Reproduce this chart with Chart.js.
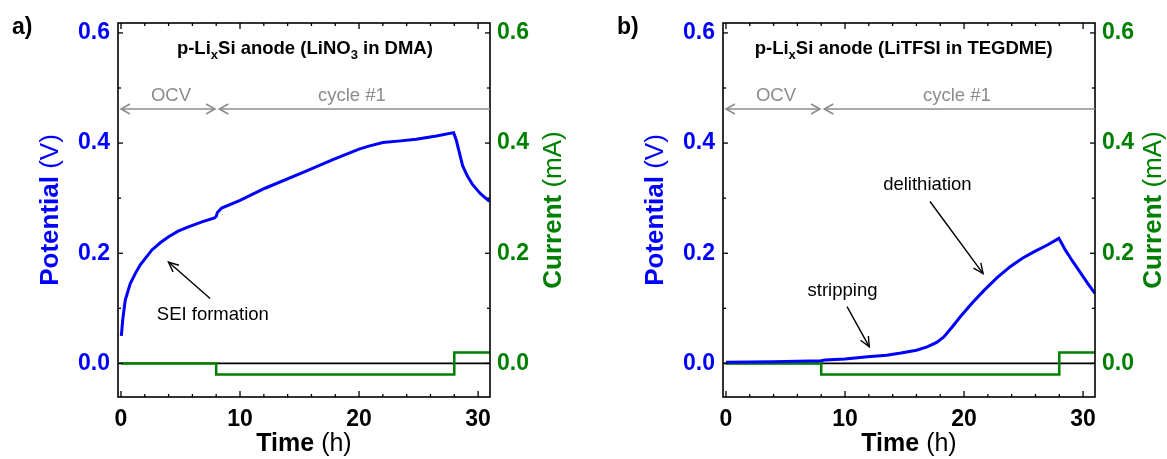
<!DOCTYPE html>
<html>
<head>
<meta charset="utf-8">
<script src="https://cdn.jsdelivr.net/npm/chart.js@4/dist/chart.umd.min.js"></script>
<style>
  html, body { margin: 0; padding: 0; background: #fff; }
  body { width: 1167px; height: 459px; position: relative; overflow: hidden; }
  .box { position: absolute; top: 0; height: 459px; }
  #boxA { left: 0; width: 600px; }
  #boxB { left: 605px; width: 562px; }
</style>
</head>
<body>
<div class="box" id="boxA"><canvas id="chartA" width="600" height="459"></canvas></div>
<div class="box" id="boxB"><canvas id="chartB" width="562" height="459"></canvas></div>
<script>
// ---------- data ----------
const timeA = [0.03, 0.15, 0.36, 0.78, 1.2, 1.62, 2.6, 3.3, 4.0, 4.8, 5.67, 6.8, 7.85, 8.0, 8.1, 8.46, 10, 12.1, 15.45, 17.8, 20.0, 20.9, 22.0, 23.5, 24.8, 26.5, 27.94, 28.16, 28.4, 28.7, 29.1, 29.56, 30.2, 30.95];
const potentialA = [0.050, 0.080, 0.115, 0.145, 0.163, 0.179, 0.206, 0.219, 0.230, 0.240, 0.248, 0.257, 0.264, 0.267, 0.274, 0.282, 0.296, 0.318, 0.348, 0.370, 0.389, 0.395, 0.401, 0.404, 0.407, 0.413, 0.419, 0.406, 0.385, 0.359, 0.340, 0.324, 0.308, 0.294];

const timeB = [0, 4, 7.97, 8.3, 10, 11.9, 13.5, 14.7, 16, 16.9, 17.7, 18.3, 19.0, 19.7, 20.7, 21.7, 22.8, 23.9, 24.9, 25.9, 27.0, 27.96, 28.2, 28.5, 29.1, 29.8, 30.4, 31.0];
const potentialB = [0.002, 0.003, 0.005, 0.006, 0.008, 0.012, 0.015, 0.019, 0.024, 0.030, 0.038, 0.048, 0.066, 0.085, 0.110, 0.133, 0.156, 0.176, 0.191, 0.203, 0.215, 0.227, 0.218, 0.206, 0.186, 0.164, 0.145, 0.127];

const currentTime = [0, 8, 28, 31];
const currentValues = [0, -0.02, 0.02, 0.02];

const yMajorTicks = [0, 0.2, 0.4, 0.6];
const yMinorTicks = [0.1, 0.3, 0.5];
const xMajorTicks = [0, 10, 20, 30];
const xMinorTicks = [2, 4, 6, 8, 12, 14, 16, 18, 22, 24, 26, 28];

const xRange = [-0.25, 31];
const yRange = [-0.061, 0.618];

// ---------- style ----------
const FONT = '"Liberation Sans", Arial, Helvetica, sans-serif';
const BLUE = '#0000ff';
const GREEN = '#008000';
const GRAY = '#8c8c8c';

function pairs(xs, ys) { return xs.map((x, i) => ({ x: x, y: ys[i] })); }

function drawMixed(ctx, parts, x, y, align) {
  let total = 0;
  parts.forEach(p => {
    ctx.font = (p.weight || 'normal') + ' ' + p.size + 'px ' + FONT;
    p.w = ctx.measureText(p.text).width;
    total += p.w;
  });
  let cx = align === 'center' ? x - total / 2 : (align === 'right' ? x - total : x);
  parts.forEach(p => {
    ctx.font = (p.weight || 'normal') + ' ' + p.size + 'px ' + FONT;
    ctx.textAlign = 'left';
    ctx.fillText(p.text, cx, y + (p.sub || 0));
    cx += p.w;
  });
}

function arrowHead(ctx, x0, y0, x1, y1, len, half) {
  const a = Math.atan2(y1 - y0, x1 - x0);
  const ang = Math.atan2(half, len);
  const l = Math.hypot(len, half);
  ctx.beginPath();
  ctx.moveTo(x1 - l * Math.cos(a - ang), y1 - l * Math.sin(a - ang));
  ctx.lineTo(x1, y1);
  ctx.lineTo(x1 - l * Math.cos(a + ang), y1 - l * Math.sin(a + ang));
  ctx.stroke();
}

const framePlugin = {
  id: 'frame',
  beforeDatasetsDraw(chart) {
    const { ctx, chartArea: ca, scales } = chart;
    const y0 = scales.y.getPixelForValue(0);
    ctx.save();
    ctx.strokeStyle = '#000';
    ctx.lineWidth = 1.6;
    ctx.beginPath();
    ctx.moveTo(ca.left, y0);
    ctx.lineTo(ca.right, y0);
    ctx.stroke();
    ctx.restore();
  },
  afterDraw(chart, args, opts) {
    const { ctx, chartArea: ca, scales } = chart;
    const xs = scales.x, ys = scales.y;
    const P = (t, v) => [xs.getPixelForValue(t), ys.getPixelForValue(v)];
    ctx.save();
    ctx.strokeStyle = '#000';
    ctx.lineWidth = 1.6;
    ctx.strokeRect(ca.left, ca.top, ca.right - ca.left, ca.bottom - ca.top);
    ctx.lineWidth = 1.3;
    const tick = (x0, y0, x1, y1) => { ctx.beginPath(); ctx.moveTo(x0, y0); ctx.lineTo(x1, y1); ctx.stroke(); };
    yMajorTicks.forEach(v => { const y = ys.getPixelForValue(v); tick(ca.left, y, ca.left + 5, y); tick(ca.right, y, ca.right - 5, y); });
    yMinorTicks.forEach(v => { const y = ys.getPixelForValue(v); tick(ca.left, y, ca.left + 3, y); tick(ca.right, y, ca.right - 3, y); });
    xMajorTicks.forEach(t => { const x = xs.getPixelForValue(t); tick(x, ca.bottom, x, ca.bottom - 6); tick(x, ca.top, x, ca.top + 6); });
    xMinorTicks.forEach(t => { const x = xs.getPixelForValue(t); tick(x, ca.bottom, x, ca.bottom - 3); tick(x, ca.top, x, ca.top + 3); });

    ctx.fillStyle = '#000';
    ctx.textBaseline = 'alphabetic';
    ctx.font = 'bold 23px ' + FONT;
    ctx.textAlign = 'left';
    ctx.fillText(opts.panel, ca.left - 106, ca.top + 11);

    const midY = (ca.top + ca.bottom) / 2;
    ctx.textBaseline = 'middle';
    ctx.save();
    ctx.translate(ca.left - 67, midY);
    ctx.rotate(-Math.PI / 2);
    ctx.fillStyle = BLUE;
    drawMixed(ctx, [{ text: 'Potential ', size: 26, weight: 'bold' }, { text: '(V)', size: 26 }], 0, 0, 'center');
    ctx.restore();
    ctx.save();
    ctx.translate(ca.right + opts.rightTitleOffset, midY);
    ctx.rotate(-Math.PI / 2);
    ctx.fillStyle = GREEN;
    drawMixed(ctx, [{ text: 'Current ', size: 26, weight: 'bold' }, { text: '(mA)', size: 26 }], 0, 0, 'center');
    ctx.restore();
    ctx.textBaseline = 'alphabetic';
    ctx.fillStyle = '#000';
    drawMixed(ctx, [{ text: 'Time ', size: 25, weight: 'bold' }, { text: '(h)', size: 25 }], (ca.left + ca.right) / 2, ca.bottom + 54, 'center');

    const [tx, ty] = P(opts.titlePos[0], opts.titlePos[1]);
    drawMixed(ctx, opts.titleParts, tx, ty, 'center');

    ctx.strokeStyle = GRAY;
    ctx.fillStyle = GRAY;
    ctx.lineWidth = 1.6;
    const [ax0, ay] = P(0, 0.462);
    const [ax1] = P(7.9, 0.462);
    const [ax2] = P(8.26, 0.462);
    ctx.beginPath(); ctx.moveTo(ax0, ay); ctx.lineTo(ax1, ay); ctx.stroke();
    arrowHead(ctx, ax1, ay, ax0, ay, 9, 5);
    arrowHead(ctx, ax0, ay, ax1, ay, 9, 5);
    ctx.beginPath(); ctx.moveTo(ax2, ay); ctx.lineTo(ca.right, ay); ctx.stroke();
    arrowHead(ctx, ca.right, ay, ax2, ay, 9, 5);
    ctx.font = '18.5px ' + FONT;
    ctx.textAlign = 'center';
    let p = P(4.2, 0.477); ctx.fillText('OCV', p[0], p[1]);
    p = P(19.4, 0.477); ctx.fillText('cycle #1', p[0], p[1]);

    ctx.strokeStyle = '#000';
    ctx.fillStyle = '#000';
    ctx.lineWidth = 1.4;
    opts.notes.forEach(n => {
      const [nx, ny] = P(n.text[0], n.text[1]);
      ctx.font = '18.5px ' + FONT;
      ctx.textAlign = n.align;
      ctx.fillText(n.label, nx, ny);
      const [x0, y0] = P(n.from[0], n.from[1]);
      const [x1, y1] = P(n.to[0], n.to[1]);
      ctx.beginPath(); ctx.moveTo(x0, y0); ctx.lineTo(x1, y1); ctx.stroke();
      arrowHead(ctx, x0, y0, x1, y1, 10, 4.5);
    });
    ctx.restore();
  }
};

function makeChart(id, time, potential, leftWidth, rightWidth, plugOpts) {
  const tickFont = { family: FONT, size: 23, weight: 'bold' };
  const grid = { display: false, drawTicks: false, tickLength: 0 };
  return new Chart(document.getElementById(id), {
    type: 'line',
    data: {
      datasets: [
        { label: 'Potential', data: pairs(time, potential), yAxisID: 'y', borderColor: BLUE, borderWidth: 3, pointRadius: 0, tension: 0, order: 0 },
        { label: 'Current', data: pairs(currentTime, currentValues), yAxisID: 'y1', borderColor: GREEN, borderWidth: 2.5, pointRadius: 0, stepped: 'before', order: 1 }
      ]
    },
    options: {
      responsive: false,
      animation: false,
      devicePixelRatio: 1,
      layout: { padding: { top: 23, left: 0, right: 0, bottom: 0 } },
      plugins: { legend: { display: false }, tooltip: { enabled: false }, frame: plugOpts },
      scales: {
        x: {
          type: 'linear', min: xRange[0], max: xRange[1],
          grid: grid, border: { display: false },
          afterBuildTicks: s => { s.ticks = xMajorTicks.map(v => ({ value: v })); },
          ticks: { font: tickFont, color: '#000', padding: 9, autoSkip: false, maxRotation: 0, callback: v => String(v) },
          afterFit: s => { s.height = 62; }
        },
        y: {
          type: 'linear', position: 'left', min: yRange[0], max: yRange[1],
          grid: grid, border: { display: false },
          afterBuildTicks: s => { s.ticks = yMajorTicks.map(v => ({ value: v })); },
          ticks: { font: tickFont, color: BLUE, padding: 8, autoSkip: false, callback: v => v.toFixed(1) },
          afterFit: s => { s.width = leftWidth; }
        },
        y1: {
          type: 'linear', position: 'right', min: yRange[0], max: yRange[1],
          grid: grid, border: { display: false },
          afterBuildTicks: s => { s.ticks = yMajorTicks.map(v => ({ value: v })); },
          ticks: { font: tickFont, color: GREEN, padding: 7, autoSkip: false, callback: v => v.toFixed(1) },
          afterFit: s => { s.width = rightWidth; }
        }
      }
    },
    plugins: [framePlugin]
  });
}

const TS = 18.5, SS = 13;
makeChart('chartA', timeA, potentialA, 118, 110, {
  panel: 'a)', rightTitleOffset: 64,
  titlePos: [15.45, 0.562],
  titleParts: [
    { text: 'p-Li', size: TS, weight: 'bold' }, { text: 'x', size: SS, weight: 'bold', sub: 5 },
    { text: 'Si anode (LiNO', size: TS, weight: 'bold' }, { text: '3', size: SS, weight: 'bold', sub: 5 },
    { text: ' in DMA)', size: TS, weight: 'bold' }
  ],
  notes: [
    { label: 'SEI formation', text: [3.01, 0.079], align: 'left', from: [7.49, 0.118], to: [3.99, 0.184] }
  ]
});
makeChart('chartB', timeB, potentialB, 118, 72, {
  panel: 'b)', rightTitleOffset: 59,
  titlePos: [14.93, 0.562],
  titleParts: [
    { text: 'p-Li', size: TS, weight: 'bold' }, { text: 'x', size: SS, weight: 'bold', sub: 5 },
    { text: 'Si anode (LiTFSI in TEGDME)', size: TS, weight: 'bold' }
  ],
  notes: [
    { label: 'delithiation', text: [16.92, 0.314], align: 'center', from: [17.14, 0.294], to: [21.6, 0.163] },
    { label: 'stripping', text: [9.79, 0.123], align: 'center', from: [10.17, 0.103], to: [12.04, 0.030] }
  ]
});
</script>
</body>
</html>
